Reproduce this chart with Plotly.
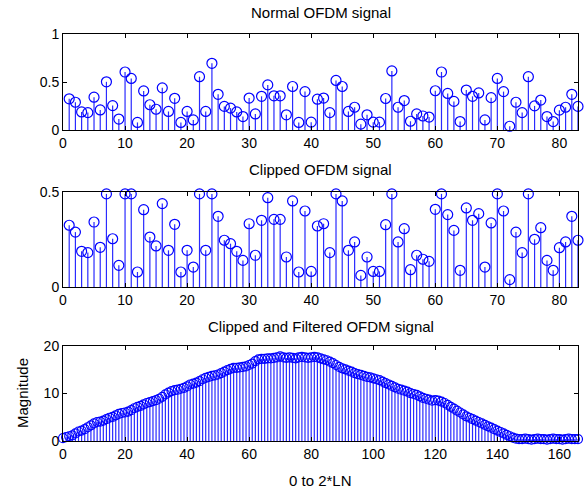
import plotly.graph_objects as go

# ---- data ----
idx = list(range(1, 84))
clipped = [0.325, 0.289, 0.188, 0.181, 0.342, 0.209, 0.49, 0.254, 0.114, 0.49,
           0.49, 0.079, 0.407, 0.263, 0.216, 0.439, 0.193, 0.330, 0.079, 0.193,
           0.105, 0.49, 0.193, 0.49, 0.372, 0.246, 0.228, 0.188, 0.140, 0.333,
           0.167, 0.351, 0.470, 0.356, 0.356, 0.158, 0.453, 0.079, 0.400, 0.082,
           0.321, 0.333, 0.181, 0.49, 0.453, 0.193, 0.237, 0.061, 0.158, 0.082,
           0.082, 0.328, 0.49, 0.237, 0.307, 0.091, 0.167, 0.146, 0.135, 0.409,
           0.49, 0.381, 0.298, 0.088, 0.416, 0.351, 0.386, 0.105, 0.337, 0.49,
           0.400, 0.039, 0.289, 0.181, 0.49, 0.251, 0.312, 0.140, 0.088, 0.207,
           0.237, 0.372, 0.246]
normal = [0.325, 0.289, 0.188, 0.181, 0.342, 0.209, 0.502, 0.254, 0.114, 0.604,
          0.537, 0.079, 0.407, 0.263, 0.216, 0.439, 0.193, 0.330, 0.079, 0.193,
          0.105, 0.555, 0.193, 0.695, 0.372, 0.246, 0.228, 0.188, 0.140, 0.333,
          0.167, 0.351, 0.470, 0.356, 0.356, 0.158, 0.453, 0.079, 0.400, 0.082,
          0.321, 0.333, 0.181, 0.516, 0.453, 0.193, 0.237, 0.061, 0.158, 0.082,
          0.082, 0.328, 0.615, 0.237, 0.307, 0.091, 0.167, 0.146, 0.135, 0.409,
          0.604, 0.381, 0.298, 0.088, 0.416, 0.351, 0.386, 0.105, 0.337, 0.537,
          0.400, 0.039, 0.289, 0.181, 0.555, 0.251, 0.312, 0.140, 0.088, 0.207,
          0.237, 0.372, 0.246]
idx2 = list(range(0, 167))
filtered = [0.6, 0.8, 1.0, 1.2, 1.6, 2.0, 2.2, 2.5, 2.9, 3.3,
            3.7, 4.0, 4.1, 4.3, 4.6, 4.9, 5.1, 5.4, 5.7, 5.9,
            6.0, 6.2, 6.5, 6.9, 7.2, 7.4, 7.7, 8.0, 8.2, 8.4,
            8.6, 8.9, 9.3, 9.8, 10.2, 10.5, 10.7, 10.8, 11.0, 11.2,
            11.5, 11.9, 12.1, 12.3, 12.6, 13.0, 13.3, 13.5, 13.7, 13.8,
            14.0, 14.3, 14.6, 14.9, 15.2, 15.4, 15.4, 15.5, 15.6, 15.7,
            16.0, 16.3, 16.8, 17.2, 17.3, 17.3, 17.4, 17.4, 17.5, 17.6,
            17.8, 17.6, 17.5, 17.6, 17.5, 17.4, 17.6, 17.7, 17.6, 17.5,
            17.6, 17.7, 17.6, 17.4, 17.2, 17.0, 16.7, 16.4, 16.0, 15.6,
            15.3, 15.1, 14.8, 14.6, 14.3, 14.1, 13.9, 13.7, 13.5, 13.4,
            13.2, 13.0, 12.8, 12.5, 12.2, 11.9, 11.6, 11.3, 11.0, 10.8,
            10.6, 10.4, 10.1, 9.9, 9.7, 9.4, 9.1, 8.9, 8.7, 8.5,
            8.6, 8.5, 8.3, 8.0, 7.6, 7.2, 6.8, 6.4, 6.0, 5.6,
            5.2, 4.9, 4.6, 4.3, 4.0, 3.7, 3.4, 3.1, 2.8, 2.5,
            2.2, 1.9, 1.6, 1.3, 1.0, 0.7, 0.5, 0.4, 0.4, 0.5,
            0.4, 0.3, 0.4, 0.5, 0.4, 0.4, 0.3, 0.4, 0.5, 0.4,
            0.4, 0.3, 0.4, 0.5, 0.4, 0.4, 0.4]

titles = ["Normal OFDM signal", "Clipped OFDM signal", "Clipped and Filtered OFDM signal"]
xticks_top = [0, 10, 20, 30, 40, 50, 60, 70, 80]
xticks_bot = [0, 20, 40, 60, 80, 100, 120, 140, 160]

BLUE = "#0000FF"
STEM = "#2a2aff"
FONT = "Liberation Sans, Arial, sans-serif"


def stem_traces(x, y, xa, ya, msize):
    sx, sy = [], []
    for a, b in zip(x, y):
        sx += [a, a, None]
        sy += [0, b, None]
    line = go.Scatter(x=sx, y=sy, mode="lines", line=dict(color=STEM, width=1.2),
                      xaxis=xa, yaxis=ya, hoverinfo="skip", showlegend=False)
    pts = go.Scatter(x=x, y=y, mode="markers", cliponaxis=False,
                     marker=dict(symbol="circle-open", size=msize, color=BLUE,
                                 line=dict(width=1.2, color=BLUE)),
                     xaxis=xa, yaxis=ya, showlegend=False)
    return [line, pts]


fig = go.Figure()
for t in stem_traces(idx, normal, "x", "y", 10):
    fig.add_trace(t)
for t in stem_traces(idx, clipped, "x2", "y2", 10):
    fig.add_trace(t)
for t in stem_traces(idx2, filtered, "x3", "y3", 9):
    fig.add_trace(t)

xd = [63 / 588, 578 / 588]
doms = [[362 / 492, 458 / 492], [205 / 492, 300 / 492], [51 / 492, 146 / 492]]

common = dict(showline=True, linecolor="black", linewidth=1, mirror="ticks",
              ticks="inside", ticklen=4, tickcolor="black", showgrid=False,
              zeroline=False, automargin=False,
              tickfont=dict(family=FONT, size=14, color="black"))

fig.update_layout(
    template="none",
    width=588, height=492,
    margin=dict(l=0, r=0, t=0, b=0, pad=0),
    paper_bgcolor="white", plot_bgcolor="white",
    xaxis=dict(domain=xd, range=[0, 83], tickvals=xticks_top, anchor="y", **common),
    yaxis=dict(domain=doms[0], range=[0, 1], tickvals=[0, 0.5, 1], anchor="x", **common),
    xaxis2=dict(domain=xd, range=[0, 83], tickvals=xticks_top, anchor="y2", **common),
    yaxis2=dict(domain=doms[1], range=[0, 0.5], tickvals=[0, 0.5], anchor="x2", **common),
    xaxis3=dict(domain=xd, range=[0, 166], tickvals=xticks_bot, anchor="y3", **common),
    yaxis3=dict(domain=doms[2], range=[0, 20], tickvals=[0, 10, 20], anchor="x3", **common),
)

title_y = [1 - 13 / 492, 1 - 170 / 492, 1 - 326 / 492]
for t, ty in zip(titles, title_y):
    fig.add_annotation(text=t, x=(xd[0] + xd[1]) / 2, y=ty, xref="paper", yref="paper",
                       showarrow=False, font=dict(family=FONT, size=15, color="black"),
                       xanchor="center", yanchor="middle")

fig.add_annotation(text="0 to 2*LN", x=(xd[0] + xd[1]) / 2, y=1 - 480 / 492, xref="paper", yref="paper",
                   showarrow=False, font=dict(family=FONT, size=15, color="black"),
                   xanchor="center", yanchor="middle")
fig.add_annotation(text="Magnitude", x=22 / 588, y=1 - 393 / 492, xref="paper", yref="paper",
                   showarrow=False, textangle=-90, font=dict(family=FONT, size=15, color="black"),
                   xanchor="center", yanchor="middle")

fig.write_html("out.html", config={"displayModeBar": False},
               post_script="document.body.style.margin='0';document.body.style.overflow='hidden';")
